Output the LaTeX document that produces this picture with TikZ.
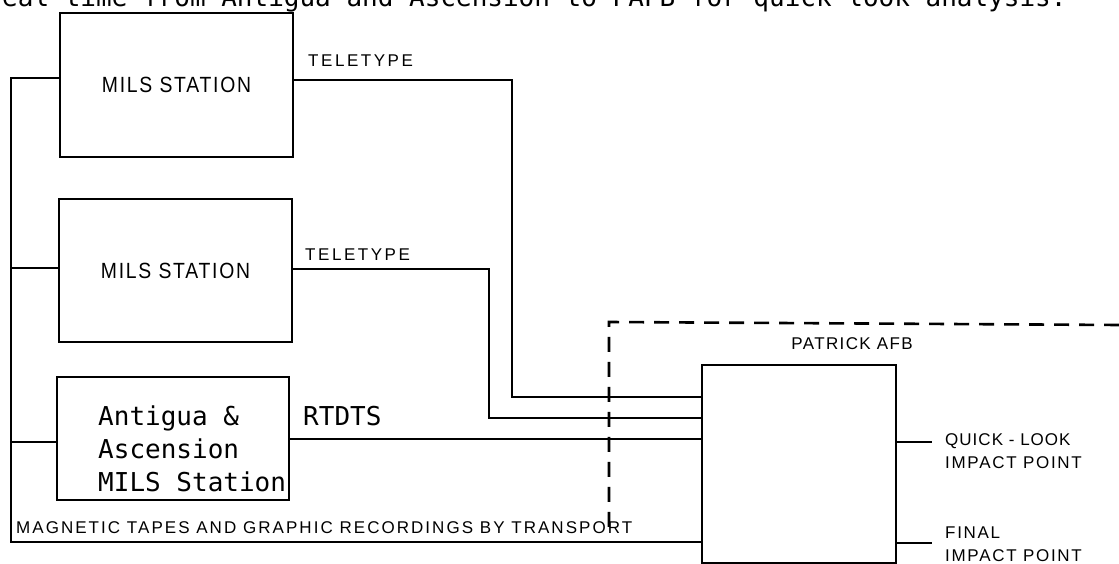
\documentclass[tikz,border=0pt]{standalone}
\usepackage{fontspec}
\newfontfamily\monof{DejaVu Sans Mono}
\newfontfamily\lblf{Liberation Sans}
\newfontfamily\boxf[FakeStretch=0.88]{Liberation Sans}
\begin{document}
\begin{tikzpicture}[x=1pt,y=-1pt,
  box/.style={draw, line width=2.6pt, inner sep=0pt},
  conn/.style={line width=1.8pt},
  dashln/.style={line width=2.6pt, dash pattern=on 15pt off 10pt},
  lbl/.style={inner sep=0pt, anchor=base west, font=\lblf\fontsize{17}{20}\selectfont},
  mono/.style={inner sep=0pt, anchor=base west, font=\monof\fontsize{26}{30}\selectfont},
  boxtext/.style={font=\boxf\fontsize{22}{26}\selectfont\addfontfeature{LetterSpace=8}}]
\useasboundingbox (0,0) rectangle (1119,564);
\clip (0,0) rectangle (1119,564);
\fill[white] (0,0) rectangle (1119,564);
% partial top line of text
\node[mono] (toptext) at (2,7) {eal time from Antigua and Ascension to PAFB for quick-look analysis.};
% boxes
\node[box, boxtext, minimum width=233pt, minimum height=144pt] (b1) at (176.5,85) {MILS STATION};
\node[box, boxtext, minimum width=233pt, minimum height=143pt] (b2) at (175.5,270.5) {MILS STATION};
\node[box, minimum width=232pt, minimum height=123pt] (b3) at (173,438.5) {};
\node[box, minimum width=194pt, minimum height=198pt] (pafb) at (799,464) {};
% box 3 text
\node[mono] (b3l1) at (98,425) {Antigua \&};
\node[mono] (b3l2) at (98,458) {Ascension};
\node[mono] (b3l3) at (98,491) {MILS Station};
% bus
\coordinate (busTop) at (11,78);
\coordinate (busBot) at (11,542);
\draw[conn] (b1.west |- busTop) -- (busTop) -- (busBot) -- (pafb.west |- busBot);
\draw[conn] (b2.west |- 0,268) -- (busTop |- 0,268);
\draw[conn] (b3.west |- 0,442) -- (busTop |- 0,442);
% teletype lines
\coordinate (t1c) at (512,397);
\coordinate (t2c) at (489,418);
\draw[conn] (b1.east |- 0,80) -| (t1c) -- (pafb.west |- t1c);
\draw[conn] (b2.east |- 0,269) -| (t2c) -- (pafb.west |- t2c);
\draw[conn] (b3.east |- 0,439) -- (pafb.west |- 0,439);
% outputs
\coordinate (qlEnd) at (932,442);
\coordinate (fiEnd) at (932,543);
\draw[conn] (pafb.east |- qlEnd) -- (qlEnd);
\draw[conn] (pafb.east |- fiEnd) -- (fiEnd);
% dashed boundary
\coordinate (dR) at (1119,325);
\coordinate (dC) at (609,322);
\coordinate (dB) at (609,535);
\draw[dashln] (dR) -- (dC) -- (dB);
% labels
\node[lbl, font=\lblf\fontsize{17}{20}\selectfont\addfontfeature{LetterSpace=15}] (lt1) at (308,67) {TELETYPE};
\node[lbl, font=\lblf\fontsize{17}{20}\selectfont\addfontfeature{LetterSpace=15}] (lt2) at (305,260) {TELETYPE};
\node[mono] (lrt) at (303,425) {RTDTS};
\node[lbl, font=\lblf\fontsize{17}{20}\selectfont\addfontfeature{LetterSpace=12}] (lmag) at (16,533) {MAGNETIC TAPES AND GRAPHIC RECORDINGS BY TRANSPORT};
\node[lbl, anchor=base, font=\lblf\fontsize{17}{20}\selectfont\addfontfeature{LetterSpace=8}] (lpafb) at (852,349) {PATRICK AFB};
\node[lbl, font=\lblf\fontsize{17}{20}\selectfont\addfontfeature{LetterSpace=6}] (lql1) at (945,445) {QUICK - LOOK};
\node[lbl, font=\lblf\fontsize{17}{20}\selectfont\addfontfeature{LetterSpace=10}] (lql2) at (945,468) {IMPACT POINT};
\node[lbl, font=\lblf\fontsize{17}{20}\selectfont\addfontfeature{LetterSpace=10}] (lfi1) at (945,538) {FINAL};
\node[lbl, font=\lblf\fontsize{17}{20}\selectfont\addfontfeature{LetterSpace=10}] (lfi2) at (945,561) {IMPACT POINT};
\end{tikzpicture}
\end{document}
